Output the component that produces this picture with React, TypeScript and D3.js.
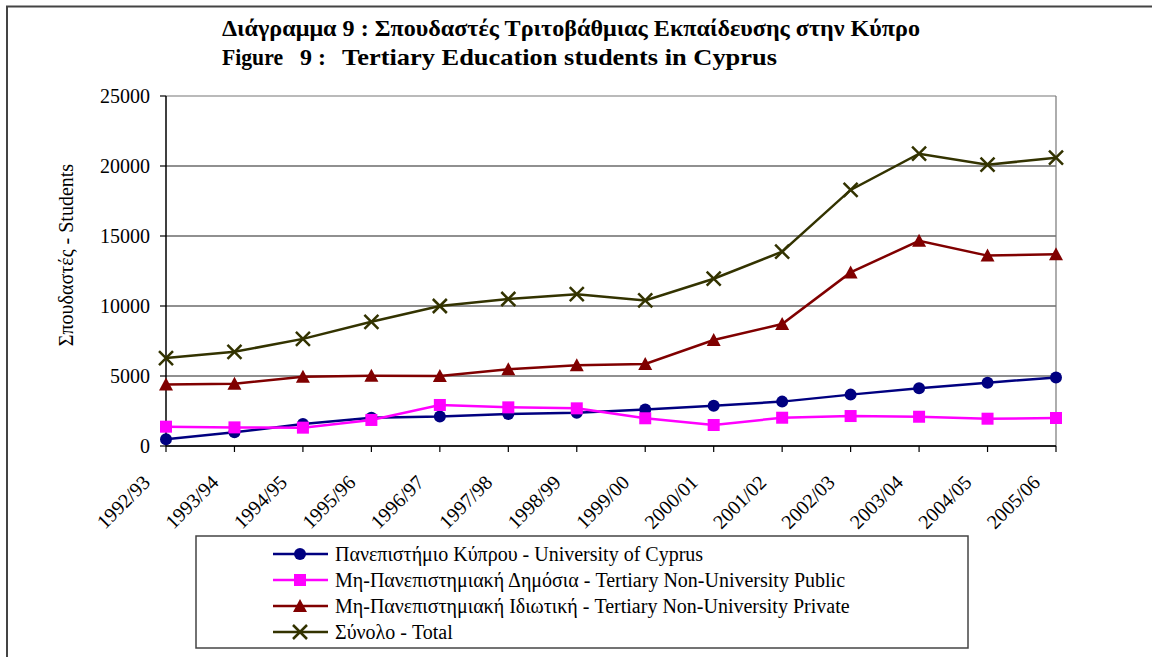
import React from "react";
import * as d3 from "d3";

const years = ["1992/93","1993/94","1994/95","1995/96","1996/97","1997/98","1998/99","1999/00","2000/01","2001/02","2002/03","2003/04","2004/05","2005/06"];
const university = [480, 980, 1570, 2020, 2100, 2290, 2380, 2600, 2880, 3170, 3670, 4120, 4520, 4900];
const publicNonUni = [1380, 1330, 1310, 1860, 2930, 2760, 2690, 1980, 1500, 2020, 2140, 2090, 1950, 2000];
const privateNonUni = [4400, 4450, 4950, 5020, 5000, 5480, 5760, 5860, 7570, 8710, 12400, 14660, 13600, 13690];
const total = [6280, 6730, 7650, 8870, 10000, 10500, 10840, 10400, 11950, 13880, 18290, 20880, 20090, 20590];
const yTicks = [0, 5000, 10000, 15000, 20000, 25000];

const seriesNames = [
  "Πανεπιστήμιο Κύπρου - University of Cyprus",
  "Μη-Πανεπιστημιακή Δημόσια - Tertiary Non-University Public",
  "Μη-Πανεπιστημιακή Ιδιωτική - Tertiary Non-University Private",
  "Σύνολο - Total",
];
const seriesColors = ["#000080", "#ff00ff", "#800000", "#333300"];
const seriesMarkers = ["circle", "square", "triangle", "cross"];
const seriesValues = [university, publicNonUni, privateNonUni, total];

const FONT = { fontFamily: '"Liberation Serif"' };

function Marker({ type, x, y, color }: { type: string; x: number; y: number; color: string }) {
  if (type === "circle") return <circle cx={x} cy={y} r={6} fill={color} />;
  if (type === "square") return <rect x={x - 6} y={y - 6} width={12} height={12} fill={color} />;
  if (type === "triangle")
    return <path d={`M${x},${y - 7} L${x + 7},${y + 6} L${x - 7},${y + 6} Z`} fill={color} />;
  return (
    <path d={`M${x - 7},${y - 7} L${x + 7},${y + 7} M${x - 7},${y + 7} L${x + 7},${y - 7}`} stroke={color} strokeWidth={2.5} fill="none" />
  );
}

export default function App() {
  const left = 166, right = 1056, top = 96, bottom = 446;
  const x = d3.scalePoint<string>().domain(years).range([left, right]);
  const y = d3.scaleLinear().domain([0, 25000]).range([bottom, top]);
  const line = d3.line<number>().x((_, i) => x(years[i])!).y((d) => y(d));

  return (
    <svg width={1152} height={657} style={{ position: "absolute", left: 0, top: 0, background: "#fff" }}>
      <rect x={0} y={0} width={1152} height={657} fill="#fff" />
      {/* legend (regular text first) */}
      <rect x={196} y={536} width={772} height={112} fill="#fff" stroke="#444" strokeWidth={1.5} />
      {seriesNames.map((n, i) => {
        const ly = 554 + i * 26;
        return (
          <g key={n}>
            <line x1={273} x2={328} y1={ly} y2={ly} stroke={seriesColors[i]} strokeWidth={2.5} />
            <Marker type={seriesMarkers[i]} x={300} y={ly} color={seriesColors[i]} />
            <text x={335} y={ly + 7} fontSize={20} style={FONT}>{n}</text>
          </g>
        );
      })}
      {/* outer frame */}
      <path d="M7,700 L7,6.5 L1160,6.5" fill="none" stroke="#444" strokeWidth={2} />
      {/* gridlines */}
      {yTicks.map((t) => (
        <line key={t} x1={left} x2={right} y1={y(t)} y2={y(t)} stroke={t === 25000 ? "#777" : "#222"} strokeWidth={1.2} />
      ))}
      <line x1={right} x2={right} y1={top} y2={bottom} stroke="#777" strokeWidth={1.2} />
      {/* axes */}
      <line x1={left} x2={left} y1={top} y2={bottom} stroke="#000" strokeWidth={1.5} />
      <line x1={left} x2={right} y1={bottom} y2={bottom} stroke="#000" strokeWidth={1.5} />
      {yTicks.map((t) => (
        <g key={"yt" + t}>
          <line x1={left - 6} x2={left} y1={y(t)} y2={y(t)} stroke="#000" strokeWidth={1.2} />
          <text x={150} y={y(t) + 7} fontSize={20} textAnchor="end" style={FONT}>{t}</text>
        </g>
      ))}
      {years.map((yr) => (
        <g key={yr}>
          <line x1={x(yr)} x2={x(yr)} y1={bottom} y2={bottom + 6} stroke="#000" strokeWidth={1.2} />
          <text transform={`translate(${x(yr)! - 61},${bottom + 84}) rotate(-45)`} fontSize={20} style={FONT}>{yr}</text>
        </g>
      ))}
      <text transform={`translate(73,255) rotate(-90)`} fontSize={20} textAnchor="middle" style={FONT}>Σπουδαστές - Students</text>
      {/* series */}
      {seriesValues.map((vals, si) => (
        <g key={si}>
          <path d={line(vals)!} fill="none" stroke={seriesColors[si]} strokeWidth={2.5} />
          {vals.map((v, i) => (
            <Marker key={i} type={seriesMarkers[si]} x={x(years[i])!} y={y(v)} color={seriesColors[si]} />
          ))}
        </g>
      ))}
      {/* title (bold, last) */}
      <text x={222} y={36} fontSize={22.5} fontWeight="bold" style={FONT} textLength={698} lengthAdjust="spacingAndGlyphs">Διάγραμμα 9 :  Σπουδαστές Τριτοβάθμιας Εκπαίδευσης στην Κύπρο</text>
      <text x={222} y={65} fontSize={22.5} fontWeight="bold" style={FONT} textLength={61} lengthAdjust="spacingAndGlyphs">Figure</text>
      <text x={300} y={65} fontSize={22.5} fontWeight="bold" style={FONT} textLength={26} lengthAdjust="spacingAndGlyphs">9 :</text>
      <text x={342} y={65} fontSize={22.5} fontWeight="bold" style={FONT} textLength={435} lengthAdjust="spacingAndGlyphs">Tertiary Education students in Cyprus</text>
    </svg>
  );
}
